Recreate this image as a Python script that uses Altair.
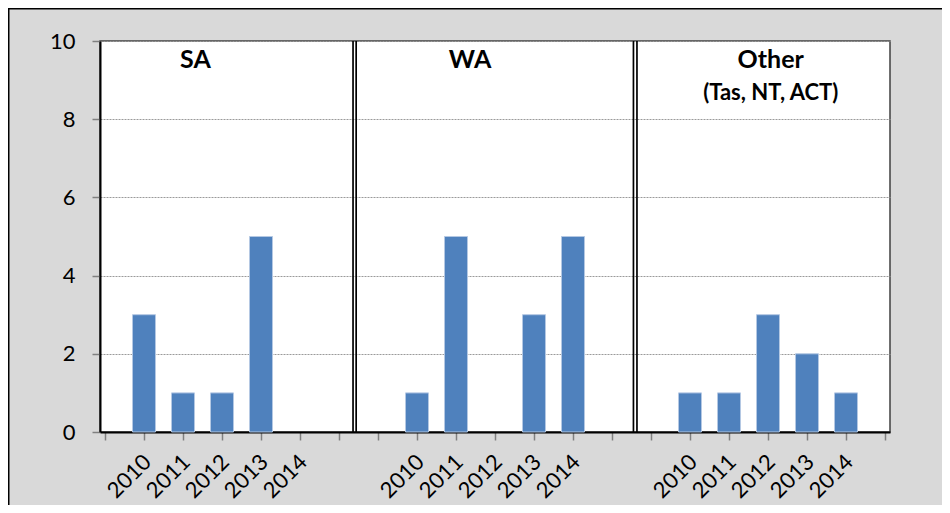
import json
import altair as alt
import pandas as pd

years = ["2010", "2011", "2012", "2013", "2014"]
groups = ["SA", "WA", "Other"]
values_sa = [3, 1, 1, 5, 0]
values_wa = [1, 5, 0, 3, 5]
values_other = [1, 1, 3, 2, 1]
group_start = [1, 8, 15]          # category slot of each group's first year
n_slots = 21
separators = [6.36, 6.44, 13.55, 13.64]
title_text = ["SA", "WA", "Other", "(Tas, NT, ACT)"]
title_x = [2.32, 9.36, 17.07, 17.07]
title_y = [9.52, 9.52, 9.52, 8.68]
title_size = [25, 25, 25, 22]
y_ticks = [0, 2, 4, 6, 8, 10]

rows = []
for g, vals in zip(range(3), [values_sa, values_wa, values_other]):
    for i, (yr, v) in enumerate(zip(years, vals)):
        rows.append({"group": groups[g], "year": yr, "pos": group_start[g] + i, "count": v})
df = pd.DataFrame(rows)

labels = [""] * n_slots
for g in range(3):
    for i, yr in enumerate(years):
        labels[group_start[g] + i] = yr
label_expr = json.dumps(labels) + "[datum.value]"

xscale = alt.Scale(domain=[0, n_slots - 1], nice=False, zero=False)
yscale = alt.Scale(domain=[0, 10], nice=False)

FONT = "Lato"

x_axis = alt.Axis(values=list(range(n_slots)), labelExpr=label_expr, title=None,
                  labelAngle=-45, labelAlign="right", labelBaseline="middle",
                  labelPadding=18, labelOffset=3, labelOverlap=False, labelBound=False,
                  labelFlush=False, grid=False, tickSize=8, tickColor="#808080",
                  tickWidth=1.5, domainColor="#000000", domainWidth=2,
                  labelFont=FONT, labelFontSize=22, labelColor="#000000")
y_axis = alt.Axis(values=y_ticks, title=None, grid=True,
                  gridColor="#9a9a9a", gridDash=[2, 1], gridWidth=1,
                  tickSize=8, tickColor="#808080", tickWidth=1.5,
                  domainColor="#000000", domainWidth=2, labelPadding=17,
                  labelFont=FONT, labelFontSize=22, labelColor="#000000")

bars = alt.Chart(df).transform_filter("datum.count > 0").mark_bar(
    size=23, color="#4f81bd", stroke="#b4c8e3", strokeWidth=1).encode(
    x=alt.X("pos:Q", scale=xscale, axis=x_axis),
    y=alt.Y("count:Q", scale=yscale, axis=y_axis),
)

sep_df = pd.DataFrame({"x": separators})
seps = alt.Chart(sep_df).mark_rule(color="#000000", strokeWidth=1.7).encode(
    x=alt.X("x:Q", scale=xscale, axis=x_axis),
    y=alt.value(0),
    y2=alt.value(391),
)

tdf = pd.DataFrame({"t": title_text, "x": title_x, "y": title_y, "s": title_size})
titles = alt.Chart(tdf).mark_text(font=FONT, fontWeight="bold", color="#000000",
                                  align="center", baseline="middle").encode(
    x=alt.X("x:Q", scale=xscale, axis=x_axis),
    y=alt.Y("y:Q", scale=yscale, axis=y_axis),
    text="t:N",
    size=alt.Size("s:Q", scale=None, legend=None),
)

frame_top = alt.Chart(pd.DataFrame({"a": [0]})).mark_rule(color="#000000", strokeWidth=1.6).encode(
    x=alt.value(-92), x2=alt.value(900), y=alt.value(-32.3))
frame_left = alt.Chart(pd.DataFrame({"a": [0]})).mark_rule(color="#000000", strokeWidth=1.6).encode(
    x=alt.value(-91.3), y=alt.value(-33), y2=alt.value(480))

chart = alt.layer(bars, seps, titles, frame_top, frame_left).properties(
    width=790, height=391,
    padding={"left": 92, "top": 33, "right": 52, "bottom": 73},
    autosize=alt.AutoSizeParams(type="none"),
    background="#d9d9d9",
).configure_view(stroke="#404040", strokeWidth=1.5, fill="#ffffff")

chart.save("out.html", embed_options={"renderer": "svg", "actions": False})
